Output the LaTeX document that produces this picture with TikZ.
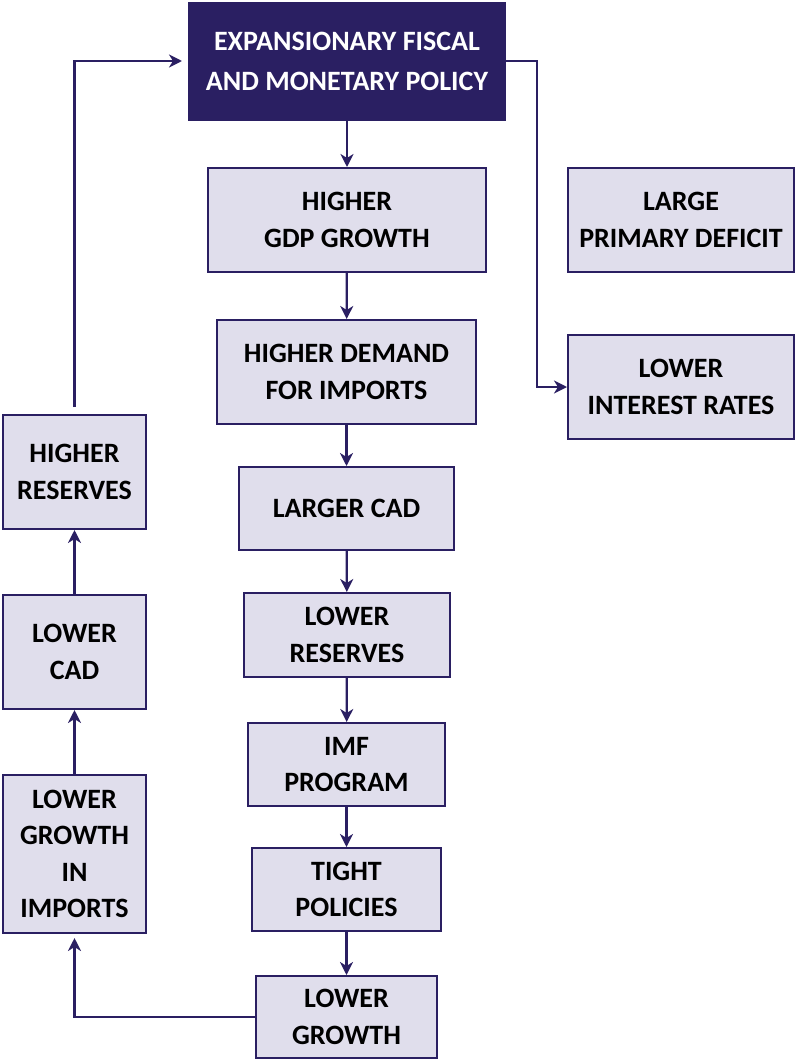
\documentclass[tikz,border=0pt]{standalone}
\usepackage{fontspec}
\setmainfont{Carlito}
\usetikzlibrary{arrows.meta}
\definecolor{navy}{RGB}{42,31,98}
\definecolor{lilac}{RGB}{224,222,236}

\begin{document}
\begin{tikzpicture}[x=1pt, y=-1pt,
  box/.style={draw=navy, fill=lilac, line width=2pt, align=center, inner sep=0pt,
    font=\fontsize{28}{36.5}\selectfont\bfseries, text=black},
  topbox/.style={box, fill=navy, text=white, font=\fontsize{28}{40}\selectfont\bfseries},
  link/.style={draw=navy, line width=2.2pt, -{Stealth[length=13pt, width=13pt, inset=4pt]}}]
  \useasboundingbox (0,0) rectangle (795,1060);

  % main column
  \node[topbox, minimum width=316pt, minimum height=117pt] (policy) at (347,61) {EXPANSIONARY FISCAL\\AND MONETARY POLICY};
  \node[box, minimum width=278pt, minimum height=104pt] (gdp) at (347,220) {HIGHER\\GDP GROWTH};
  \node[box, minimum width=259pt, minimum height=104pt] (demand) at (346.5,372) {HIGHER DEMAND\\FOR IMPORTS};
  \node[box, minimum width=215pt, minimum height=83pt] (cad) at (346.5,508.5) {LARGER CAD};
  \node[box, minimum width=206pt, minimum height=84pt] (lowres) at (347,635) {LOWER\\RESERVES};
  \node[box, minimum width=197pt, minimum height=83pt] (imf) at (346.5,764.5) {IMF\\PROGRAM};
  \node[box, minimum width=189pt, minimum height=83pt] (tight) at (346.5,889.5) {TIGHT\\POLICIES};
  \node[box, minimum width=181pt, minimum height=82pt] (lowgrowth) at (346.5,1017) {LOWER\\GROWTH};

  % right side
  \node[box, minimum width=226pt, minimum height=104pt] (deficit) at (681,220) {LARGE\\PRIMARY DEFICIT};
  \node[box, minimum width=226pt, minimum height=104pt] (rates) at (681,387) {LOWER\\INTEREST RATES};

  % left side
  \node[box, minimum width=143pt, minimum height=114pt] (highres) at (74.5,472) {HIGHER\\RESERVES};
  \node[box, minimum width=143pt, minimum height=114pt] (lowcad) at (74.5,652) {LOWER\\CAD};
  \node[box, minimum width=143pt, minimum height=158pt] (lowimp) at (74.5,854) {LOWER\\GROWTH\\IN\\IMPORTS};

  \coordinate (turn) at (537,61);

  \draw[link] (policy) -- (gdp);
  \draw[link] (gdp) -- (demand);
  \draw[link] (demand) -- (cad);
  \draw[link] (cad) -- (lowres);
  \draw[link] (lowres) -- (imf);
  \draw[link] (imf) -- (tight);
  \draw[link] (tight) -- (lowgrowth);

  \draw[link] (policy.east |- turn) -- (turn) |- (rates.west);

  \draw[link, shorten >=4pt] (lowgrowth.west) -| (lowimp.south);
  \draw[link] (lowimp) -- (lowcad);
  \draw[link] (lowcad) -- (highres);
  \draw[link, shorten <=7pt, shorten >=6pt] (highres.north) |- (policy.west |- turn);

\end{tikzpicture}
\end{document}
